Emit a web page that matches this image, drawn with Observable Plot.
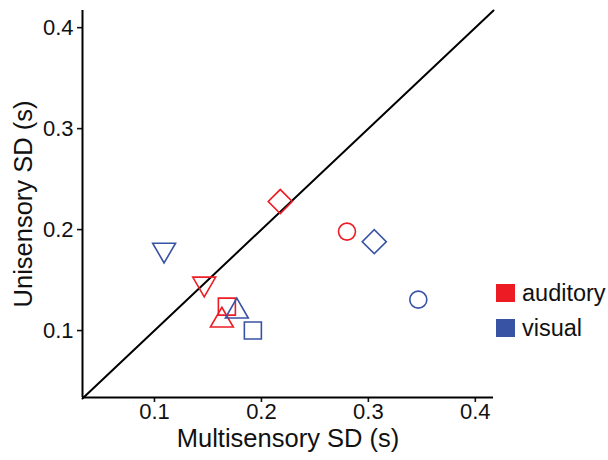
<!DOCTYPE html>
<html>
<head>
<meta charset="utf-8">
<script src="https://cdn.jsdelivr.net/npm/d3@7"></script>
<script src="https://cdn.jsdelivr.net/npm/@observablehq/plot@0.6"></script>
<style>
  body { margin: 0; background: #fff; font-family: "Liberation Sans", Arial, Helvetica, sans-serif; }
  #wrap { position: relative; width: 608px; height: 460px; }
  #legend { position: absolute; left: 496px; top: 284px; font-size: 23.5px; color: #111; }
  .item { display: flex; align-items: center; height: 18px; margin-bottom: 17px; }
  .sw { width: 19px; height: 18px; margin-right: 7px; }
</style>
</head>
<body>
<div id="wrap"><div id="legend"></div></div>
<script>
// ---- data ----
const xDomain = [0.0327, 0.417];
const yDomain = [0.0337, 0.417];
const xTicks = [0.1, 0.2, 0.3, 0.4];
const yTicks = [0.1, 0.2, 0.3, 0.4];
const modalities = ["auditory", "visual"];
const modalityColors = ["#ED1C24", "#3953A4"];
const xTitle = "Multisensory SD (s)";
const yTitle = "Unisensory SD (s)";

const condition = ["auditory", "auditory", "auditory", "auditory", "auditory",
                   "visual", "visual", "visual", "visual", "visual"];
const shape = ["circle", "triangle-up", "square", "diamond", "triangle-down",
               "circle", "triangle-up", "square", "diamond", "triangle-down"];
const multiSD = [0.280, 0.163, 0.1677, 0.2176, 0.1465,
                 0.3467, 0.177, 0.192, 0.3055, 0.109];
const uniSD = [0.198, 0.110, 0.1237, 0.2278, 0.1464,
               0.1306, 0.119, 0.100, 0.188, 0.180];

const points = condition.map((c, i) => ({condition: c, shape: shape[i], x: multiSD[i], y: uniSD[i]}));
const diag = xDomain.map(v => ({x: v, y: v}));

// symbol styles per shape
const shapeStyle = {
  "circle": {symbol: "circle", r: 8.5, rotate: 0},
  "square": {symbol: "square", r: 9.6, rotate: 0},
  "diamond": {symbol: "square", r: 9.6, rotate: 45},
  "triangle-up": {symbol: "triangle", r: 8.5, rotate: 0},
  "triangle-down": {symbol: "triangle", r: 8.5, rotate: 180}
};

const font = "Liberation Sans, Arial, Helvetica, sans-serif";
const fmt = d3.format(".1f");

const dotMarks = Object.keys(shapeStyle).map(s => Plot.dot(points.filter(d => d.shape === s), {
  x: "x", y: "y", stroke: "condition", fill: "none",
  symbol: shapeStyle[s].symbol, r: shapeStyle[s].r, rotate: shapeStyle[s].rotate,
  strokeWidth: 1.6
}));

const chart = Plot.plot({
  width: 608,
  height: 460,
  marginLeft: 82,
  marginRight: 115,
  marginTop: 10,
  marginBottom: 63,
  style: {fontFamily: font, background: "white"},
  x: {domain: xDomain},
  y: {domain: yDomain},
  color: {domain: modalities, range: modalityColors},
  marks: [
    Plot.line(diag, {x: "x", y: "y", stroke: "black", strokeWidth: 2}),
    ...dotMarks,
    Plot.axisX({ticks: xTicks, tickSize: 5, tickFormat: () => "", label: null, strokeWidth: 1.6, color: "#111"}),
    Plot.axisY({ticks: yTicks, tickSize: 5, tickFormat: () => "", label: null, strokeWidth: 1.6, color: "#111"}),
    Plot.text(xTicks, {x: d => d, text: fmt, frameAnchor: "bottom", dy: 21, fontSize: 22, fill: "#111"}),
    Plot.text(yTicks, {y: d => d, text: fmt, frameAnchor: "left", textAnchor: "end", dx: -9, fontSize: 22, fill: "#111"}),
    Plot.ruleX([xDomain[0]], {stroke: "black", strokeWidth: 2}),
    Plot.ruleY([yDomain[0]], {stroke: "black", strokeWidth: 2}),
    Plot.text([xTitle], {frameAnchor: "bottom", dy: 49, fontSize: 25.5, fill: "#111"}),
    Plot.text([yTitle], {frameAnchor: "left", textAnchor: "middle", dx: -59, rotate: -90, fontSize: 25.5, fill: "#111"})
  ]
});
document.getElementById("wrap").prepend(chart);

const legend = document.getElementById("legend");
modalities.forEach((m, i) => {
  const item = document.createElement("div");
  item.className = "item";
  const sw = document.createElement("div");
  sw.className = "sw";
  sw.style.background = modalityColors[i];
  const label = document.createElement("span");
  label.textContent = m;
  item.appendChild(sw);
  item.appendChild(label);
  legend.appendChild(item);
});
</script>
</body>
</html>
